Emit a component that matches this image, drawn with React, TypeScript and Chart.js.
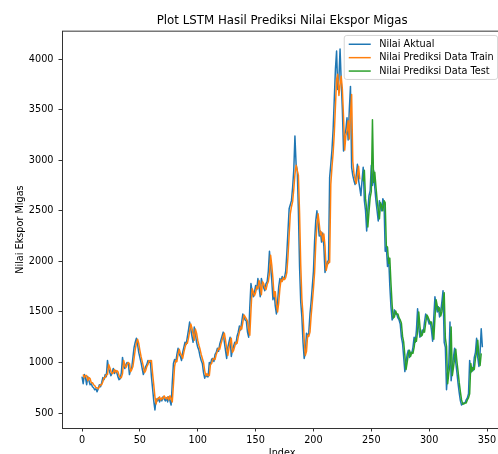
import React, { useEffect, useRef } from "react";
import { Chart, registerables } from "chart.js";

Chart.register(...registerables);

const TITLE = "Plot LSTM Hasil Prediksi Nilai Ekspor Migas";
const X_TITLE = "Index";
const Y_TITLE = "Nilai Ekspor Migas";
const SERIES_LABELS = ["Nilai Aktual", "Nilai Prediksi Data Train", "Nilai Prediksi Data Test"];
const SERIES_COLORS = ["#1f77b4", "#ff7f0e", "#2ca02c"];

const X_TICKS = [0, 50, 100, 150, 200, 250, 300, 350];
const Y_TICKS = [500, 1000, 1500, 2000, 2500, 3000, 3500, 4000];

const TRAIN_START = 1;
const TEST_START = 243;

const ACTUAL = [
  860, 790, 880, 850, 780, 860, 820, 780, 790, 760,
  750, 730, 740, 710, 740, 780, 760, 800, 850, 830,
  880, 860, 1020, 940, 900, 870, 900, 940, 890, 920,
  900, 860, 830, 840, 900, 1050, 960, 940, 980, 1000,
  990, 880, 930, 950, 1050, 1150, 1200, 1240, 1180, 1100,
  1050, 1000, 940, 880, 920, 960, 980, 1020, 1000, 1020,
  860, 740, 620, 530, 640, 620, 650, 610, 640, 620,
  660, 640, 620, 650, 610, 660, 620, 580, 800, 990,
  1030, 1000, 1080, 1140, 1080, 1060, 1020, 1100, 1150, 1200,
  1180, 1250, 1320, 1400, 1330, 1260, 1200, 1350, 1280, 1200,
  1150, 1120, 1060, 1020, 990, 900, 845, 880, 860, 860,
  1000, 980, 1030, 1040, 1010, 1080, 1100, 1140, 1110, 1180,
  1220, 1260, 1300, 1200, 1120, 1040, 1150, 1200, 1250, 1060,
  1120, 1160, 1200, 1180, 1260, 1300, 1360, 1320, 1400, 1480,
  1450, 1420, 1410, 1300, 1250, 1550, 1780, 1700, 1650, 1690,
  1760, 1720, 1830, 1750, 1650, 1830, 1780, 1740, 1710, 1780,
  1800, 1900, 2100, 1950, 1810, 1620, 1700, 1560, 1480, 1600,
  1750, 1830, 1800, 1850, 1820, 1840, 1900, 2080, 2300, 2520,
  2560, 2600, 2730, 2900, 3240, 2960, 2900, 2500, 1950, 1600,
  1450, 1200, 1040, 1100, 1290, 1250, 1300, 1480, 1600, 1750,
  1900, 2200, 2400, 2500, 2380, 2250, 2300, 2190, 2280, 2150,
  1890, 1950, 2000, 1980, 2830, 2960, 3100, 3300, 3600, 3900,
  4080, 3700, 3800, 4100, 3780, 3500, 3090, 3250, 3300, 3420,
  3200, 3500, 3730, 2930, 2850, 2800, 2760, 2850, 2960, 2800,
  2730, 2650, 2800, 2930, 2600, 2500, 2300, 2500, 2650, 2700,
  2950, 2750, 2900, 2730, 2600, 2500, 2400, 2600, 2550, 2500,
  2620, 2580, 2100, 2140, 1950, 2040, 1760, 1550, 1420, 1450,
  1520, 1480, 1480, 1440, 1420, 1380, 1250, 1190, 1050, 910,
  1000, 1080, 1120, 1050, 1100, 1090, 1150, 1250, 1200, 1320,
  1530, 1350, 1250, 1270, 1320, 1300, 1400, 1480, 1450, 1420,
  1380, 1400, 1320, 1210, 1450, 1650, 1560, 1500, 1550, 1450,
  1500, 1600, 1710, 1200, 1150, 730, 900, 990, 1400, 820,
  950, 1050, 1140, 1000, 900, 790, 700, 620, 580, 590,
  600, 600, 630, 650, 690, 1020, 900, 950, 920, 1050,
  1100, 1240, 1050, 960, 1100, 1334, 1150,
];

const TRAIN_PRED = [
  880, 850, 870, 870, 820, 850, 840, 800, 800,
  780, 770, 750, 750, 740, 760, 780, 780, 810, 850,
  850, 880, 880, 980, 950, 910, 890, 900, 930, 900,
  920, 910, 870, 850, 850, 890, 1020, 970, 950, 980,
  1000, 990, 910, 930, 960, 1040, 1130, 1190, 1230, 1190,
  1120, 1060, 1010, 960, 900, 920, 960, 980, 1020, 1010,
  1020, 890, 780, 660, 590, 640, 640, 660, 630, 650,
  640, 670, 650, 640, 660, 630, 670, 640, 610, 780,
  960, 1020, 1010, 1080, 1130, 1090, 1070, 1040, 1100, 1150,
  1190, 1190, 1240, 1310, 1380, 1340, 1280, 1220, 1330, 1290,
  1220, 1170, 1130, 1080, 1040, 1000, 920, 870, 890, 870,
  870, 980, 990, 1030, 1040, 1030, 1080, 1110, 1140, 1130,
  1180, 1220, 1260, 1290, 1220, 1140, 1070, 1140, 1200, 1240,
  1100, 1120, 1160, 1200, 1190, 1250, 1300, 1350, 1330, 1400,
  1470, 1450, 1430, 1410, 1320, 1270, 1510, 1730, 1700, 1660,
  1690, 1750, 1730, 1810, 1760, 1670, 1800, 1780, 1740, 1720,
  1770, 1800, 1880, 2060, 1960, 1830, 1650, 1700, 1580, 1500,
  1590, 1730, 1820, 1800, 1840, 1820, 1840, 1890, 2050, 2260,
  2470, 2540, 2590, 2710, 2860, 2950, 2900, 2850, 2480, 1970,
  1630, 1470, 1230, 1070, 1110, 1270, 1260, 1300, 1460, 1590,
  1730, 1890, 2170, 2370, 2470, 2370, 2260, 2290, 2200, 2270,
  2150, 1910, 1960, 2000, 1990, 2760, 2930, 3070, 3260, 3530,
  3800, 3850, 3640, 3750, 3830, 3700, 3430, 3100, 3240, 3290,
  3390, 3210, 3460, 3650, 2990, 2870, 2810, 2770, 2850, 2940,
  2810,
];

const TEST_PRED = [
  2790, 2900, 2620, 2520, 2340, 2490, 2630, 2690, 3400, 2780, 2880, 2740, 2610, 2510, 2420, 2580, 2550,
  2500, 2600, 2580, 2150, 2140, 1980, 2030, 1780, 1570, 1440,
  1450, 1510, 1480, 1480, 1440, 1420, 1390, 1260, 1200, 1070,
  930, 1000, 1080, 1120, 1060, 1100, 1090, 1150, 1240, 1210,
  1310, 1500, 1360, 1260, 1270, 1320, 1300, 1390, 1470, 1450,
  1420, 1390, 1400, 1330, 1230, 1440, 1620, 1560, 1510, 1540,
  1460, 1500, 1590, 1690, 1240, 1160, 790, 900, 980, 1350,
  870, 950, 1040, 1130, 1010, 910, 800, 710, 630, 590,
  590, 600, 600, 630, 650, 690, 990, 910, 950, 930,
  1040, 1100, 1220, 1060, 970, 1090,
];

const FONT = "'DejaVu Sans', sans-serif";
const CANVAS_W = 510;
const CANVAS_H = 470;

const topSpinePlugin = {
  id: "topSpine",
  afterDraw(chart: any) {
    const { ctx, chartArea } = chart;
    ctx.save();
    ctx.strokeStyle = "#333";
    ctx.lineWidth = 1;
    ctx.beginPath();
    ctx.moveTo(chartArea.left, chartArea.top);
    ctx.lineTo(chartArea.right, chartArea.top);
    ctx.moveTo(chartArea.right, chartArea.top);
    ctx.lineTo(chartArea.right, chartArea.bottom);
    ctx.stroke();
    ctx.restore();
  },
};

const mplLegendPlugin = {
  id: "mplLegend",
  afterDraw(chart: any) {
    const { ctx, chartArea } = chart;
    const fs = 9.7;
    ctx.save();
    ctx.font = `${fs}px ${FONT}`;
    const labels = chart.data.datasets.map((d: any) => d.label);
    const colors = chart.data.datasets.map((d: any) => d.borderColor);
    const maxW = Math.max(...labels.map((l: string) => ctx.measureText(l).width));
    const right = chartArea.right - 4.8;
    const textOffset = 35;
    const boxW = textOffset + maxW + 3.9;
    const left = right - boxW;
    const top = chartArea.top + 4.3;
    const boxH = 44;
    const r = 2.5;
    ctx.beginPath();
    ctx.moveTo(left + r, top);
    ctx.lineTo(right - r, top);
    ctx.quadraticCurveTo(right, top, right, top + r);
    ctx.lineTo(right, top + boxH - r);
    ctx.quadraticCurveTo(right, top + boxH, right - r, top + boxH);
    ctx.lineTo(left + r, top + boxH);
    ctx.quadraticCurveTo(left, top + boxH, left, top + boxH - r);
    ctx.lineTo(left, top + r);
    ctx.quadraticCurveTo(left, top, left + r, top);
    ctx.closePath();
    ctx.fillStyle = "rgba(255,255,255,0.8)";
    ctx.fill();
    ctx.strokeStyle = "rgba(204,204,204,0.8)";
    ctx.lineWidth = 1;
    ctx.stroke();
    ctx.textBaseline = "middle";
    ctx.textAlign = "left";
    labels.forEach((label: string, i: number) => {
      const y = top + 8.8 + i * 13.4;
      ctx.strokeStyle = colors[i];
      ctx.lineWidth = 1.5;
      ctx.beginPath();
      ctx.moveTo(left + 4.5, y);
      ctx.lineTo(left + 26.5, y);
      ctx.stroke();
      ctx.fillStyle = "#000";
      ctx.fillText(label, left + textOffset, y);
    });
    ctx.restore();
  },
};

export default function App() {
  const ref = useRef<HTMLCanvasElement | null>(null);

  useEffect(() => {
    if (!ref.current) return;
    const common = {
      borderWidth: 1.5,
      pointRadius: 0,
      pointHoverRadius: 0,
      fill: false,
      tension: 0,
      borderJoinStyle: "round" as const,
    };
    const chart = new Chart(ref.current, {
      type: "line",
      data: {
        datasets: [
          {
            ...common,
            label: SERIES_LABELS[0],
            data: ACTUAL.map((y, i) => ({ x: i, y })),
            borderColor: SERIES_COLORS[0],
            backgroundColor: SERIES_COLORS[0],
            order: 3,
          },
          {
            ...common,
            label: SERIES_LABELS[1],
            data: TRAIN_PRED.map((y, i) => ({ x: i + TRAIN_START, y })),
            borderColor: SERIES_COLORS[1],
            backgroundColor: SERIES_COLORS[1],
            order: 2,
          },
          {
            ...common,
            label: SERIES_LABELS[2],
            data: TEST_PRED.map((y, i) => ({ x: i + TEST_START, y })),
            borderColor: SERIES_COLORS[2],
            backgroundColor: SERIES_COLORS[2],
            order: 1,
          },
        ],
      },
      options: {
        animation: false,
        responsive: false,
        devicePixelRatio: 1,
        events: [],
        layout: { padding: { left: 0, right: 7.6, top: 0, bottom: 0 } },
        plugins: {
          legend: { display: false },
          tooltip: { enabled: false },
          title: {
            display: true,
            text: TITLE,
            fullSize: false,
            color: "#000",
            font: { family: FONT, size: 11.8, weight: "normal" },
            padding: { top: 13.5, bottom: 3.5 },
          },
        },
        scales: {
          x: {
            type: "linear",
            min: -17.3,
            max: 363.3,
            afterBuildTicks: (s: any) => {
              s.ticks = X_TICKS.map((v) => ({ value: v }));
            },
            afterFit: (s: any) => {
              s.height = 42;
            },
            grid: {
              display: true,
              drawOnChartArea: false,
              drawTicks: true,
              tickLength: 3.5,
              color: "#333",
              lineWidth: 1,
            },
            border: { display: true, color: "#333", width: 1 },
            ticks: {
              autoSkip: false,
              maxRotation: 0,
              padding: 3,
              color: "#000",
              font: { family: FONT, size: 9.7 },
              callback: (v: any) => String(v),
            },
            title: {
              display: true,
              text: X_TITLE,
              color: "#000",
              font: { family: FONT, size: 9.7 },
              padding: { top: 0, bottom: 10.5 },
            },
          },
          y: {
            type: "linear",
            min: 352,
            max: 4276,
            afterBuildTicks: (s: any) => {
              s.ticks = Y_TICKS.map((v) => ({ value: v }));
            },
            afterFit: (s: any) => {
              s.width = 62;
            },
            grid: {
              display: true,
              drawOnChartArea: false,
              drawTicks: true,
              tickLength: 3.5,
              color: "#333",
              lineWidth: 1,
            },
            border: { display: true, color: "#333", width: 1 },
            ticks: {
              autoSkip: false,
              padding: 5,
              color: "#000",
              font: { family: FONT, size: 9.7 },
              callback: (v: any) => String(v),
            },
            title: {
              display: true,
              text: Y_TITLE,
              color: "#000",
              font: { family: FONT, size: 9.7 },
              padding: { top: 15, bottom: 0 },
            },
          },
        },
      },
      plugins: [topSpinePlugin, mplLegendPlugin],
    } as any);
    return () => chart.destroy();
  }, []);

  return (
    <div
      style={{
        position: "fixed",
        left: 0,
        top: 0,
        width: 498,
        height: 454,
        overflow: "hidden",
        background: "#fff",
      }}
    >
      <canvas
        ref={ref}
        width={CANVAS_W}
        height={CANVAS_H}
        style={{ display: "block", width: CANVAS_W, height: CANVAS_H }}
      />
    </div>
  );
}
